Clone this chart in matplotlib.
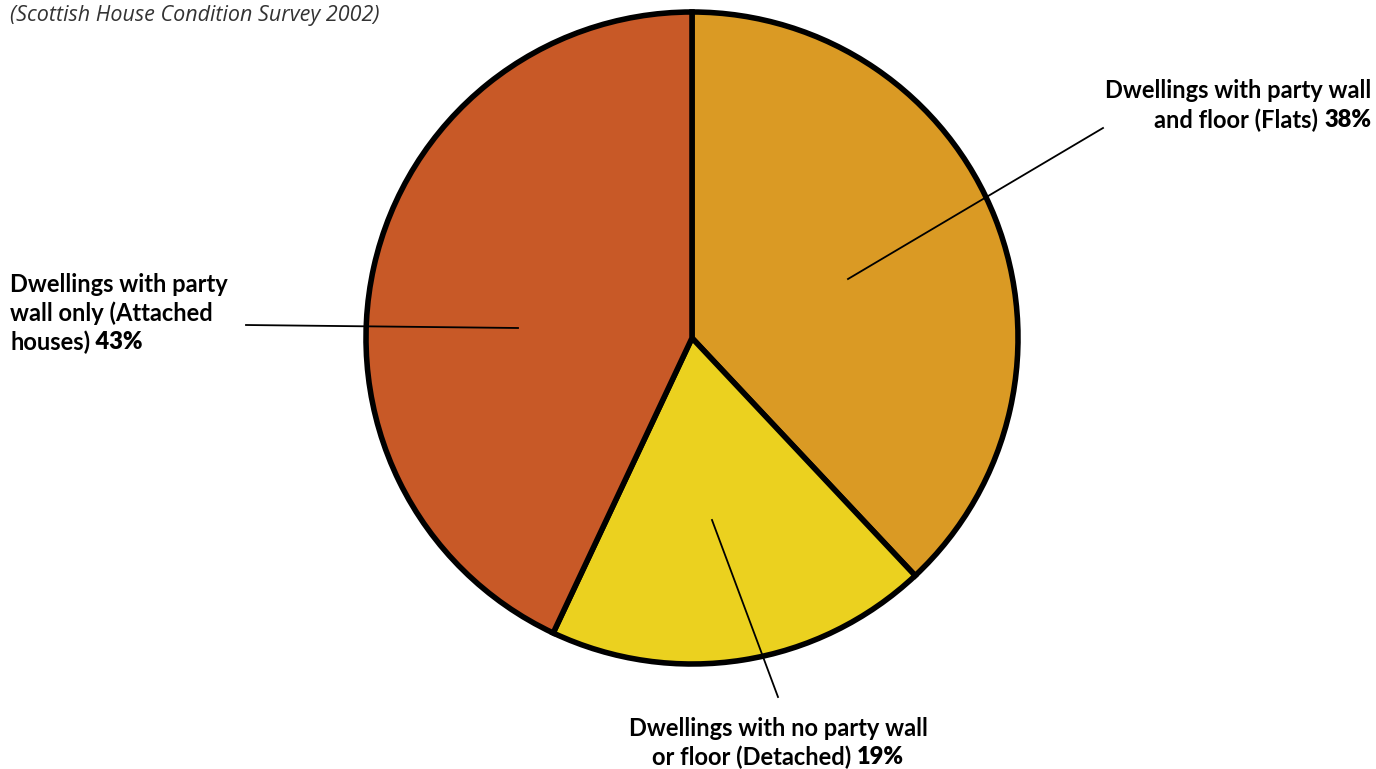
import matplotlib
matplotlib.use('Agg')
import matplotlib.pyplot as plt

# data
labels = ['Flats', 'Detached', 'Attached houses']
shares = [38, 19, 43]
colors = ['#DA9A24', '#EBD11F', '#C85927']

W, H = 1376, 769

fig = plt.figure(figsize=(W / 100, H / 100), dpi=100)
ax = fig.add_axes([0, 0, 1, 1])

cx, cy, r = 692, H - 338, 326
ax.pie(shares, colors=colors, startangle=90, counterclock=False,
       center=(cx, cy), radius=r, frame=True,
       wedgeprops=dict(edgecolor='black', linewidth=4.0))
ax.set_xlim(0, W)
ax.set_ylim(0, H)
ax.set_aspect('equal')
ax.axis('off')

# leader lines
leaders = [((1103, 128), (848, 279)),
           ((246, 325), (518, 328)),
           ((778, 697), (712, 520))]
for (x0, y0), (x1, y1) in leaders:
    ax.plot([x0, x1], [H - y0, H - y1], color='black', lw=1.3)

ax.text(10, H - 16, '(Scottish House Condition Survey 2002)', fontsize=15.5,
        style='italic', color='#333333', family='Open Sans', va='center')

fs = 17
fam = 'Lato'
renderer = fig.canvas.get_renderer()


def pct_line(x, y, txt, pct, ha):
    # one label line with a heavier percentage at the end
    if ha == 'left':
        t = ax.text(x, y, txt, fontsize=fs, weight='bold', family=fam, ha='left', va='center')
        bb = t.get_window_extent(renderer)
        ax.text(bb.x1, y, ' ' + pct, fontsize=fs, weight='heavy', family=fam, ha='left', va='center')
    elif ha == 'right':
        p = ax.text(x, y, pct, fontsize=fs, weight='heavy', family=fam, ha='right', va='center')
        bb = p.get_window_extent(renderer)
        ax.text(bb.x0, y, txt + ' ', fontsize=fs, weight='bold', family=fam, ha='right', va='center')
    else:
        t = ax.text(0, y, txt + ' ', fontsize=fs, weight='bold', family=fam, ha='left', va='center')
        p = ax.text(0, y, pct, fontsize=fs, weight='heavy', family=fam, ha='left', va='center')
        w1 = t.get_window_extent(renderer).width
        w2 = p.get_window_extent(renderer).width
        x0 = x - (w1 + w2) / 2
        t.set_x(x0)
        p.set_x(x0 + w1)


# Flats
ax.text(1371, H - 91, 'Dwellings with party wall', fontsize=fs, weight='bold',
        family=fam, ha='right', va='center')
pct_line(1371, H - 120, 'and floor (Flats)', '38%', 'right')

# Attached
ax.text(10, H - 285, 'Dwellings with party', fontsize=fs, weight='bold',
        family=fam, ha='left', va='center')
ax.text(10, H - 313, 'wall only (Attached', fontsize=fs, weight='bold',
        family=fam, ha='left', va='center')
pct_line(10, H - 342, 'houses)', '43%', 'left')

# Detached
ax.text(778, H - 728, 'Dwellings with no party wall', fontsize=fs, weight='bold',
        family=fam, ha='center', va='center')
pct_line(778, H - 757, 'or floor (Detached)', '19%', 'center')

fig.savefig('out.png', dpi=100)
